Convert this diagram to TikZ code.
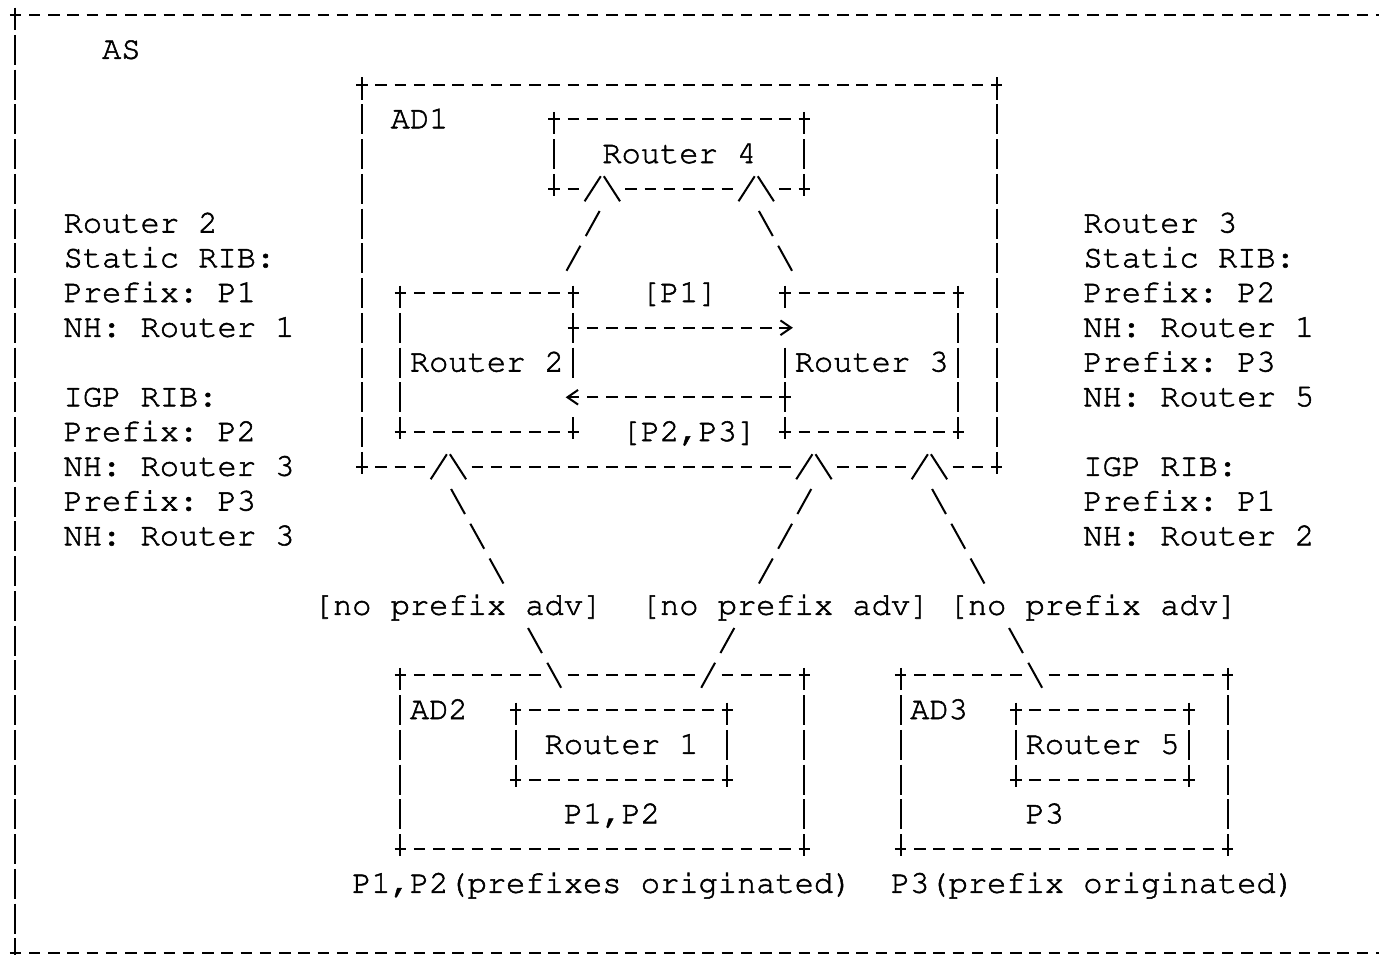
\documentclass[tikz,border=0pt]{standalone}
\usepackage[T1,TU]{fontenc}
\usetikzlibrary{arrows.meta}

% Courier: 0.6em per character = one column of the grid
\newcommand{\ascii}{\fontencoding{T1}\fontfamily{pcr}\fontseries{m}\fontshape{n}\fontsize{24.05pt}{26pt}\selectfont\frenchspacing\special{pdf:literal direct 2 Tr 0.4 w}}

\tikzset{
  txt/.style={font=\ascii, inner sep=0pt, outer sep=0pt, anchor=west, text height=13.5pt, text depth=0pt},
  asciibox/.style={font=\ascii, inner sep=0pt, outer sep=0pt, text height=13.5pt, text depth=0pt},
  advtag/.style={txt, fill=white, inner ysep=4pt},
  hyph/.style={line width=1.5pt, dash pattern=on 8.6pt off 5.83pt, shorten <=-4.3pt, shorten >=-4.3pt},
  bar/.style={line width=1.5pt, dash pattern=on 22.5pt off 3.5625pt, dash phase=5.65pt, shorten <=-5.6pt, shorten >=-5.6pt},
  slash/.style={line width=1.5pt, dash pattern=on 21.45pt off 8.34pt},
  glyph/.style={line width=1.5pt},
  headed/.style={hyph, -{Straight Barb[length=8pt, width=11pt]}},
  caret/.pic={
    \fill[white] (-0.85,-0.1) rectangle (0.85,0.1);
    \draw[glyph] (-0.92,0.36) -- (-0.08,-0.36) (0.08,-0.36) -- (0.92,0.36);
  },
  hcut/.pic={\fill[white] (-0.45,-0.1) rectangle (0.45,0.1);},
  vcut/.pic={\fill[white] (-0.12,-0.45) rectangle (0.12,0.45);}
}

\begin{document}
\begin{tikzpicture}[x=14.43pt, y=-26.0625pt]

\def\cw{14.43pt}
\def\rh{26.0625pt}
% frame of a box node, drawn with dashes and bars
\def\asciiframe#1{%
  \draw[hyph] (#1.north west) -- (#1.north east);
  \draw[hyph] (#1.south west) -- (#1.south east);
  \draw[bar] (#1.north west) -- (#1.south west);
  \draw[bar] (#1.north east) -- (#1.south east);
}

\useasboundingbox (-0.8056,-0.4317) rectangle (70.868,27.05);

% Boxes (one column = one character, one row = one line)
\node[asciibox, minimum width=72*\cw, minimum height=27*\rh] (as) at (36,13.5) {};
\node[asciibox, minimum width=33*\cw, minimum height=11*\rh] (ad1) at (34.5,7.5) {};
\node[asciibox, minimum width=13*\cw, minimum height=2*\rh] (r4) at (34.5,4) {Router 4};
\node[asciibox, minimum width=9*\cw, minimum height=4*\rh] (r2) at (24.5,10) {Router 2};
\node[asciibox, minimum width=9*\cw, minimum height=4*\rh] (r3) at (44.5,10) {Router 3};
\node[asciibox, minimum width=21*\cw, minimum height=5*\rh] (ad2) at (30.5,21.5) {};
\node[asciibox, minimum width=17*\cw, minimum height=5*\rh] (ad3) at (54.5,21.5) {};
\node[asciibox, minimum width=11*\cw, minimum height=2*\rh] (r1) at (31.5,21) {Router 1};
\node[asciibox, minimum width=9*\cw, minimum height=2*\rh] (r5) at (56.5,21) {Router 5};

\asciiframe{as}
\asciiframe{ad1}
\asciiframe{r4}
\asciiframe{r2}
\asciiframe{r3}
\asciiframe{ad2}
\asciiframe{ad3}
\asciiframe{r1}
\asciiframe{r5}

% Box labels
\node[txt] (aslbl) at (4.5,1) {AS};
\node[txt] (ad1lbl) at (19.5,3) {AD1};
\node[txt] (ad2lbl) at (20.5,20) {AD2};
\node[txt] (ad3lbl) at (46.5,20) {AD3};
\node[txt] (p1tag) at (32.5,8) {[P1]};
\node[txt] (p23tag) at (31.5,12) {[P2,P3]};
\node[txt] (r1pfx) at (28.5,23) {P1,P2};
\node[txt] (r5pfx) at (52.5,23) {P3};
\node[txt] (ad2orig) at (17.5,25) {P1,P2(prefixes originated)};
\node[txt] (ad3orig) at (45.5,25) {P3(prefix originated)};

% Router 2 RIBs
\node[txt] (lrib1) at (2.5,6) {Router 2};
\node[txt] (lrib2) at (2.5,7) {Static RIB:};
\node[txt] (lrib3) at (2.5,8) {Prefix: P1};
\node[txt] (lrib4) at (2.5,9) {NH: Router 1};
\node[txt] (lrib5) at (2.5,11) {IGP RIB:};
\node[txt] (lrib6) at (2.5,12) {Prefix: P2};
\node[txt] (lrib7) at (2.5,13) {NH: Router 3};
\node[txt] (lrib8) at (2.5,14) {Prefix: P3};
\node[txt] (lrib9) at (2.5,15) {NH: Router 3};

% Router 3 RIBs
\node[txt] (rrib1) at (55.5,6) {Router 3};
\node[txt] (rrib2) at (55.5,7) {Static RIB:};
\node[txt] (rrib3) at (55.5,8) {Prefix: P2};
\node[txt] (rrib4) at (55.5,9) {NH: Router 1};
\node[txt] (rrib5) at (55.5,10) {Prefix: P3};
\node[txt] (rrib6) at (55.5,11) {NH: Router 5};
\node[txt] (rrib7) at (55.5,13) {IGP RIB:};
\node[txt] (rrib8) at (55.5,14) {Prefix: P1};
\node[txt] (rrib9) at (55.5,15) {NH: Router 2};

% Arrows between Router 2 and Router 3
\pic at (40,9) {vcut};
\pic at (29,11) {vcut};
\draw[headed] ([yshift=\rh]r2.east) -- ([xshift=1.544pt, yshift=\rh]r3.west);
\draw[headed] ([yshift=-\rh]r3.west) -- ([xshift=-1.544pt, yshift=-\rh]r2.east);

% Links ending in a caret
\coordinate (r2out) at (28.64,7.36);
\coordinate (r4inl) at (30.36,5.64);
\coordinate (r3out) at (40.36,7.36);
\coordinate (r4inr) at (38.64,5.64);
\coordinate (ad2outl) at (28.36,19.36);
\coordinate (ad1inl) at (22.64,13.64);
\coordinate (ad2outr) at (35.64,19.36);
\coordinate (ad1inm) at (41.36,13.64);
\coordinate (ad3out) at (53.36,19.36);
\coordinate (ad1inr) at (47.64,13.64);

\pic at (28,19) {hcut};
\pic at (36,19) {hcut};
\pic at (53,19) {hcut};

\draw[slash] (r2out) -- (r4inl);
\draw[slash] (r3out) -- (r4inr);
\draw[slash] (ad2outl) -- (ad1inl);
\draw[slash] (ad2outr) -- (ad1inm);
\draw[slash] (ad3out) -- (ad1inr);

\pic at (30.5,5) {caret};
\pic at (38.5,5) {caret};
\pic at (22.5,13) {caret};
\pic at (41.5,13) {caret};
\pic at (47.5,13) {caret};

% Labels on the links
\node[advtag] (adv1) at (15.5,17) {[no prefix adv]};
\node[advtag] (adv2) at (32.5,17) {[no prefix adv]};
\node[advtag] (adv3) at (48.5,17) {[no prefix adv]};

\end{tikzpicture}
\end{document}
